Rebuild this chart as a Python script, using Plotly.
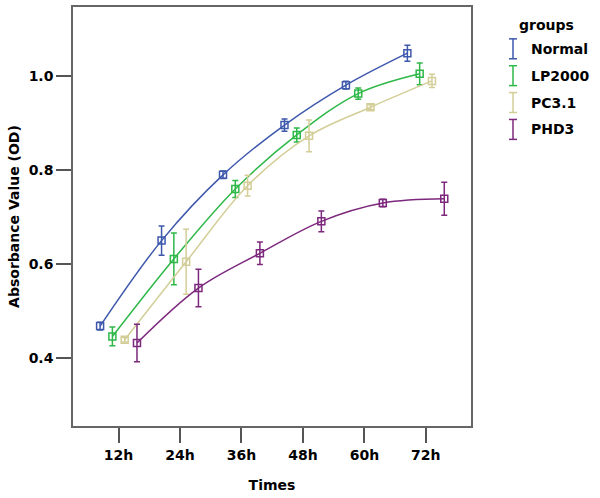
import plotly.graph_objects as go

categories = ["12h", "24h", "36h", "48h", "60h", "72h"]
groups = ["Normal", "LP2000", "PC3.1", "PHD3"]
normal = [0.467, 0.649, 0.789, 0.895, 0.980, 1.048]
normal_err = [0.008, 0.031, 0.008, 0.013, 0.008, 0.017]
lp2000 = [0.445, 0.610, 0.759, 0.874, 0.962, 1.004]
lp2000_err = [0.020, 0.055, 0.018, 0.015, 0.012, 0.023]
pc31 = [0.438, 0.604, 0.766, 0.872, 0.933, 0.989]
pc31_err = [0.005, 0.069, 0.022, 0.034, 0.005, 0.014]
phd3 = [0.431, 0.548, 0.622, 0.690, 0.729, 0.738]
phd3_err = [0.040, 0.040, 0.024, 0.022, 0.008, 0.035]

series = [normal, lp2000, pc31, phd3]
errors = [normal_err, lp2000_err, pc31_err, phd3_err]
colors = ["#3E58AC", "#2EB848", "#D3CE97", "#7C287D"]
dodge = [-0.3, -0.1, 0.1, 0.3]

FONT = "DejaVu Sans"
fig = go.Figure()
for name, vals, err, col, off in zip(groups, series, errors, colors, dodge):
    xs = [i + off for i in range(len(categories))]
    fig.add_trace(go.Scatter(
        x=xs, y=vals, name=name, mode="lines+markers",
        line=dict(color=col, width=1.5, shape="spline", smoothing=1.0),
        marker=dict(symbol="square-open", size=7, color=col, line=dict(width=1.5, color=col)),
        error_y=dict(type="data", array=err, visible=True, color=col, thickness=1.5, width=3),
        showlegend=False,
    ))

# plot area in pixels
L, R, T, B = 73, 471, 5, 426
W, H = 600, 498

def px(x):
    return (x - L) / (R - L)

def py(y):
    return (B - y) / (B - T)

shapes = []
annotations = []
annotations.append(dict(x=px(546), y=py(23), xref="paper", yref="paper", text="<b>groups</b>",
                        showarrow=False, font=dict(family=FONT, size=14, color="black"),
                        xanchor="center", yanchor="middle"))
for k, (name, col) in enumerate(zip(groups, colors)):
    cy = 47 + 27 * k
    x0 = 513
    shapes.append(dict(type="line", xref="paper", yref="paper", x0=px(x0), x1=px(x0),
                       y0=py(cy - 10), y1=py(cy + 10), line=dict(color=col, width=1.5)))
    for yy in (cy - 10, cy + 10):
        shapes.append(dict(type="line", xref="paper", yref="paper", x0=px(x0 - 4), x1=px(x0 + 4),
                           y0=py(yy), y1=py(yy), line=dict(color=col, width=1.5)))
    annotations.append(dict(x=px(529), y=py(cy), xref="paper", yref="paper", text="<b>%s</b>" % name,
                            showarrow=False, font=dict(family=FONT, size=14, color="black"),
                            xanchor="left", yanchor="middle"))

fig.update_layout(
    width=W, height=H,
    margin=dict(l=L, r=W - R, t=T, b=H - B),
    paper_bgcolor="white", plot_bgcolor="white",
    font=dict(family=FONT, size=14, color="black"),
    shapes=shapes, annotations=annotations,
    showlegend=False,
)
fig.update_xaxes(
    range=[-0.741, 5.735], tickmode="array", tickvals=list(range(len(categories))),
    ticktext=["<b>%s</b>" % c for c in categories],
    ticks="outside", ticklen=15, tickwidth=1.5, tickcolor="#555555",
    showline=True, linecolor="#666666", linewidth=1.5, mirror=True,
    showgrid=False, zeroline=False, automargin=True, ticklabelstandoff=0,
    title=dict(text="<b>Times</b>", font=dict(family=FONT, size=14), standoff=19),
    tickfont=dict(family=FONT, size=14),
)
fig.update_yaxes(
    range=[0.2544, 1.1463], tickmode="array", tickvals=[0.4, 0.6, 0.8, 1.0],
    ticktext=["<b>0.4</b>", "<b>0.6</b>", "<b>0.8</b>", "<b>1.0</b>"],
    ticks="outside", ticklen=15, tickwidth=1.5, tickcolor="#555555",
    showline=True, linecolor="#666666", linewidth=1.5, mirror=True,
    showgrid=False, zeroline=False, automargin=True, ticklabelstandoff=0,
    title=dict(text="<b>Absorbance Value (OD)</b>", font=dict(family=FONT, size=14), standoff=6),
    tickfont=dict(family=FONT, size=14),
)

fig.write_html("out.html", post_script="document.body.style.margin='0';",
               config={"displayModeBar": False})
